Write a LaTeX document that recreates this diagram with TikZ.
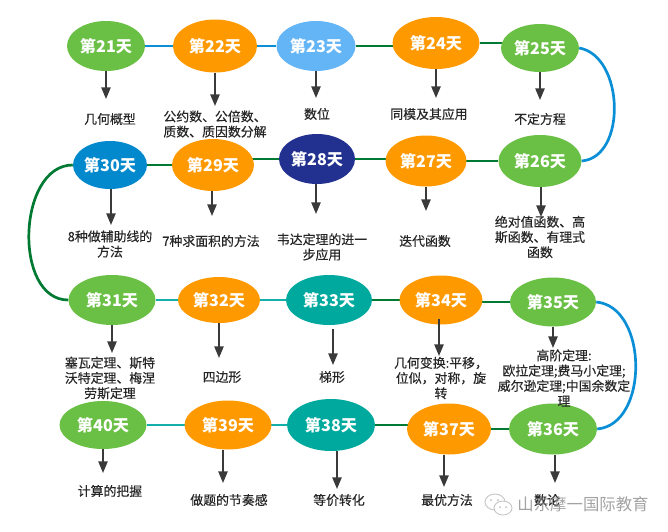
\documentclass[tikz,border=0pt]{standalone}
\usepackage{fontspec}
\setmainfont{Noto Sans CJK SC}
\newfontfamily\notefont[FakeBold=0.35]{Noto Sans CJK SC}
\usetikzlibrary{arrows.meta,backgrounds,shapes.geometric}
\definecolor{dayGreen}{HTML}{6ABF45}
\definecolor{dayOrange}{HTML}{FF9900}
\definecolor{daySky}{HTML}{64B5F6}
\definecolor{dayBlue}{HTML}{0288CC}
\definecolor{dayNavy}{HTML}{22308F}
\definecolor{dayTeal}{HTML}{00A99D}
\definecolor{linkBlue}{HTML}{0A8FD6}
\definecolor{linkGreen}{HTML}{007A33}
\definecolor{linkTeal}{HTML}{12B0A8}
\definecolor{tipGray}{HTML}{3A3A3A}

\begin{document}
\begin{tikzpicture}[
  x=0.03cm,y=-0.03cm,
  day/.style 2 args={ellipse,inner sep=0pt,text=white,minimum width=#1*0.03cm,minimum height=#2*0.03cm,
    font=\fontsize{13.8}{16}\selectfont\bfseries},
  note/.style={align=center,inner sep=0pt,font=\notefont\fontsize{11}{13}\selectfont,text=black!85},
  drop/.style={-{Triangle[length=10pt,width=8pt]},tipGray,line width=1.3pt},
  blueLink/.style={linkBlue,line width=2.3pt},
  greenLink/.style={linkGreen,line width=2.3pt},
  tealLink/.style={linkTeal,line width=2.3pt},
  wechat/.style={draw=black!22,fill=white,line width=0.8pt}
]
\useasboundingbox (0,0) rectangle (668,532);

% Row one: days 21 to 25
\node[day={78}{50},fill=dayGreen] (d21) at (106,46) {第21天};
\node[day={84}{53},fill=dayOrange] (d22) at (215,46) {第22天};
\node[day={79}{50},fill=daySky] (d23) at (316,46) {第23天};
\node[day={87}{52},fill=dayOrange] (d24) at (436,43) {第24天};
\node[day={78}{48},fill=dayGreen] (d25) at (540,48) {第25天};

% Row two: days 30 back to 26
\node[day={74}{48},fill=dayBlue] (d30) at (110,165) {第30天};
\node[day={82}{52},fill=dayOrange] (d29) at (213,165) {第29天};
\node[day={76}{50},fill=dayNavy] (d28) at (317,159) {第28天};
\node[day={81}{51},fill=dayOrange] (d27) at (426,161) {第27天};
\node[day={83}{52},fill=dayGreen] (d26) at (540,161) {第26天};

% Row three: days 31 to 35
\node[day={87}{50},fill=dayGreen] (d31) at (112,300) {第31天};
\node[day={82}{46},fill=dayOrange] (d32) at (219,300) {第32天};
\node[day={86}{50},fill=dayTeal] (d33) at (329,300) {第33天};
\node[day={83}{49},fill=dayOrange] (d34) at (441,300) {第34天};
\node[day={86}{49},fill=dayGreen] (d35) at (553,302) {第35天};

% Row four: days 40 back to 36
\node[day={87}{48},fill=dayGreen] (d40) at (103,425) {第40天};
\node[day={87}{49},fill=dayOrange] (d39) at (228,425) {第39天};
\node[day={88}{52},fill=dayTeal] (d38) at (331,425) {第38天};
\node[day={84}{51},fill=dayOrange] (d37) at (449,429) {第37天};
\node[day={88}{51},fill=dayGreen] (d36) at (553,429) {第36天};

% Links run behind the ellipses, so each one stops at the next centre.
\begin{scope}[on background layer]
\draw[blueLink] (d21) -- (d22);
\draw[blueLink] (d22) -- (d23);
\draw[greenLink] (d23) -- (d23 -| d24);
\draw[greenLink] (d24) -- (d24 -| d25);
\draw[greenLink] (d26) -- (d26 -| d27);
\draw[greenLink] (d28) -- (d28 -| d27);
\draw[greenLink] (d28) -- (d28 -| d29);
\draw[greenLink] (d30) -- (d30 -| d29);
\draw[tealLink] (d31) -- (d31 -| d32);
\draw[tealLink] (d32) -- (d32 -| d33);
\draw[greenLink] (d33) -- (d33 -| d34);
\draw[greenLink] (d35) -- (d35 -| d34);
\draw[greenLink] (d36) -- (d36 -| d37);
\draw[greenLink] (d38) -- (d38 -| d37);
\draw[tealLink] (d38) -- (d38 -| d39);
\draw[tealLink] (d40) -- (d40 -| d39);
\end{scope}
\draw[blueLink] (d25.east) to[out=-10,in=5,looseness=1.03] (d26.east);
\draw[greenLink] (d30.west) to[out=180,in=180,looseness=1.05] (d31.west);
\draw[blueLink] (d35.east) to[out=-5,in=5,looseness=1.05] (d36.east);

% Notes under each day
\node[note] (n21) at (110,119) {几何概型};
\node[note,align=left] (n22) at (215,124) {公约数、公倍数、\\质数、质因数分解};
\node[note] (n23) at (317,114) {数位};
\node[note] (n24) at (429,114) {同模及其应用};
\node[note] (n25) at (540,119) {不定方程};
\node[note] (n30) at (110,244) {8种做辅助线的\\方法};
\node[note] (n29) at (211,241) {7种求面积的方法};
\node[note] (n28) at (322,247) {韦达定理的进一\\步应用};
\node[note] (n27) at (425,241) {迭代函数};
\node[note] (n26) at (540,237) {绝对值函数、高\\斯函数、有理式\\函数};
\node[note] (n31) at (110,378) {塞瓦定理、斯特\\沃特定理、梅涅\\劳斯定理};
\node[note] (n32) at (222,377) {四边形};
\node[note] (n33) at (332,377) {梯形};
\node[note] (n34) at (441,378) {几何变换:平移，\\位似，对称，旋\\转};
\node[note] (n35) at (564,378) {高阶定理:\\欧拉定理;费马小定理;\\威尔逊定理;中国余数定\\理};
\node[note] (n40) at (110,491) {计算的把握};
\node[note] (n39) at (229,500) {做题的节奏感};
\node[note] (n38) at (339,500) {等价转化};
\node[note] (n37) at (447,500) {最优方法};
\node[note] (n36) at (547,500) {数论};

% Arrows: day / x / tip y / shortening at the start
\foreach \n/\x/\y/\s in {21/106/99/0,22/215/106/0,23/316/98/0,24/436/98/0,25/540/100/0,
    30/111/225/0,29/212/216/0,28/316/214/0,27/426/211/0,26/541/217/0,
    31/112/353/0,32/219/358/0,33/333/365/3.4,34/439/356/-5,35/553/348/0,
    40/103/473/0,39/223/483/0,38/337/489/0,37/444/487/0,36/555/483/0}{
  \coordinate (t\n) at (\x,\y);
  \draw[drop,shorten <=\s pt] (d\n.south -| t\n) -- (t\n);
}

% Watermark
\draw[wechat] (495,502) ellipse (10 and 8);
\draw[wechat] (503,508) ellipse (9 and 7);
\fill[black!25] (491,500) circle (1) (498,500) circle (1) (500,507) circle (1) (506,507) circle (1);
\node[inner sep=0pt,text=black!45,opacity=0.8,font=\fontsize{14}{16}\selectfont] (wm) at (583,504) {山东摩一国际教育};
\end{tikzpicture}
\end{document}
